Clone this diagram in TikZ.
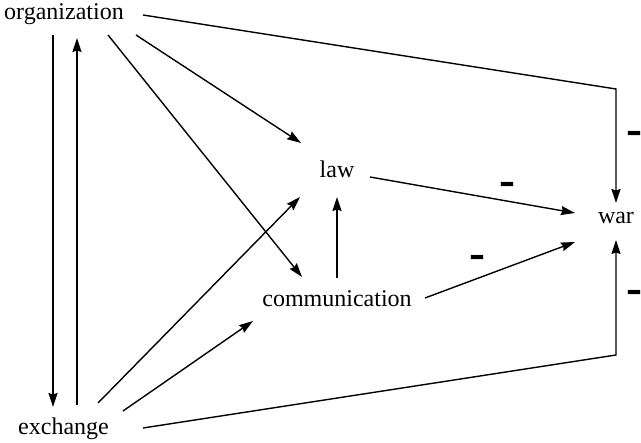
\documentclass[tikz,border=0pt]{standalone}
\usepackage{fontspec}
\setmainfont{Liberation Serif}
\usepackage{graphicx}
\usetikzlibrary{arrows.meta,calc}
\begin{document}
\begin{tikzpicture}[x=1pt,y=-1pt,
  term/.style={inner sep=0pt, anchor=base, font=\fontsize{24}{28}\selectfont},
  link/.style={line width=1.4pt, line join=miter, -{Stealth[length=14pt,width=9pt,inset=1.5pt]}},
  neg/.style={inner sep=0pt, font=\fontsize{24}{28}\selectfont\bfseries}]
\useasboundingbox (0,0) rectangle (641,443);

% concepts
\node[term] (org)  at (64,20)    {organization};
\node[term] (exch) at (63.5,435) {exchange};
\node[term] (law)  at (337,178)  {law};
\node[term] (comm) at (337,307)  {communication};
\node[term] (war)  at (616,224)  {war};

% corners of the two long routes into war
\coordinate (ctop) at (616,89);
\coordinate (cbot) at (616,355);

% organization and exchange feed each other
\draw[link] ($(org.base)+(-11,15)$) -- ($(exch.base)+(-10.5,-28)$);
\draw[link] ($(exch.base)+(13.5,-30)$) -- ($(org.base)+(13,18)$);

% organization to law and communication
\draw[link] ($(org.base)+(72,15)$) -- ($(law.base)+(-36,-35)$);
\draw[link] ($(org.base)+(44,15)$) -- ($(comm.base)+(-35,-30)$);

% exchange to law and communication
\draw[link] ($(exch.base)+(34.5,-32)$) -- ($(law.base)+(-37,19)$);
\draw[link] ($(exch.base)+(59.5,-24)$) -- ($(comm.base)+(-84,14)$);

% communication to law
\draw[link] ($(comm.base)+(0,-29)$) -- ($(law.base)+(0,19)$);

% into war
\draw[link] ($(law.base)+(33,-1)$) -- ($(war.base)+(-41,-11)$);
\draw[link] ($(comm.base)+(88,-9)$) -- ($(war.base)+(-41,18)$);
\draw[link] ($(org.base)+(79,-5)$) -- (ctop) -- ($(war.base)+(0,-21)$);
\draw[link] ($(exch.base)+(79.5,-7)$) -- (cbot) -- ($(war.base)+(0,16)$);

% negative signs
\node[neg] (n1) at (634.5,139) {\scalebox{1}[2.5]{–}};
\node[neg] (n2) at (634.5,298) {\scalebox{1}[2.5]{–}};
\node[neg] (n3) at (507,190)   {\scalebox{1}[2.5]{–}};
\node[neg] (n4) at (477,263)   {\scalebox{1}[2.5]{–}};
\end{tikzpicture}
\end{document}
